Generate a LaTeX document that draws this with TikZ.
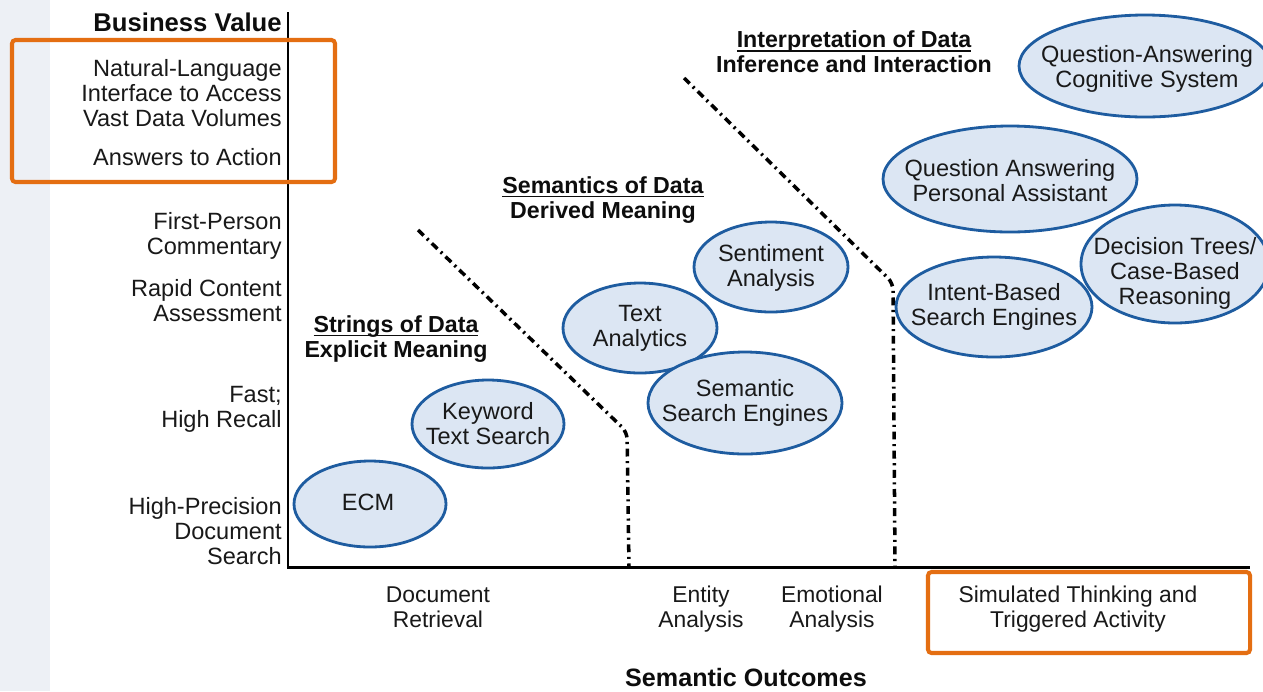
\documentclass[tikz,border=0pt]{standalone}
\usepackage{fontspec}
\setmainfont{Liberation Sans}
\usepackage{xcolor}

\definecolor{azulborda}{RGB}{30,92,160}
\definecolor{azulfundo}{RGB}{220,230,243}
\definecolor{laranja}{RGB}{228,110,18}
\definecolor{faixa}{RGB}{237,240,245}

\newcommand{\sublinha}[1]{\setbox0\hbox{#1}\rlap{\rule[-2.2pt]{\wd0}{0.7pt}}\box0}

\tikzset{
	bolha/.style   = {draw = azulborda, fill = azulfundo, line width = 1.6pt},
	rotulo/.style  = {inner sep = 0pt, align = center, text = black!90, font = \fontsize{13.4}{14.2}\selectfont},
	eixoy/.style   = {rotulo, anchor = east, align = right},
	eixox/.style   = {rotulo, font = \fontsize{13}{14.2}\selectfont},
	titulo/.style  = {inner sep = 0pt, align = center, text = black!95, font = \bfseries\fontsize{13.2}{14.2}\selectfont},
	divisa/.style  = {line width = 2pt, dash pattern = on 4.5pt off 2.6pt on 1.2pt off 2.6pt, rounded corners = 4pt},
	moldura/.style = {draw = laranja, line width = 2.3pt, rounded corners = 2pt},
}

\begin{document}
\begin{tikzpicture}[x = 0.02cm, y = -0.02cm]

	\useasboundingbox (0, 0) rectangle (1263, 691);
	\fill[white] (0, 0) rectangle (1263, 691);
	\fill[faixa] (0, 0) rectangle (50, 691); % faixa lateral

	% Eixos
	\draw[line width = 1.7pt] (288, 12) -- (288, 567) -- (1250, 567);

	% Divisas
	\draw[divisa] (418, 230) -- (627, 432) -- (629, 567);
	\draw[divisa] (684,  78) -- (893, 283) -- (895, 567);

	% Eixo vertical
	\node[titulo, anchor = east, font = \bfseries\fontsize{14.6}{16}\selectfont] (bv) at (282, 22) {Business Value};
	\node[eixoy] (nli) at (282,  93)   {Natural-Language\\Interface to Access\\Vast Data Volumes};
	\node[eixoy] (ata) at (282, 157)   {Answers to Action};
	\node[eixoy] (fpc) at (282, 236) {First-Person\\Commentary};
	\node[eixoy] (rca) at (282, 301) {Rapid Content\\Assessment};
	\node[eixoy] (fhr) at (282, 409.5)   {Fast;\\High Recall};
	\node[eixoy] (hpd) at (282, 531)   {High-Precision\\Document\\Search};

	% Titulos das regioes
	\node[titulo] (str) at (396, 339) {\sublinha{Strings of Data}\\Explicit Meaning};
	\node[titulo] (sem) at (603, 200) {\sublinha{Semantics of Data}\\Derived Meaning};
	\node[titulo] (int) at (854,  52) {\sublinha{Interpretation of Data}\\Inference and Interaction};

	% Bolhas
	\draw[bolha] ( 370, 504) ellipse ( 76 and 43);
	\node[rotulo] (ecm) at ( 368, 502) {ECM};
	\draw[bolha] ( 488, 424) ellipse ( 76 and 44);
	\node[rotulo] (kws) at ( 488, 424) {Keyword\\Text Search};
	\draw[bolha] ( 640, 328) ellipse ( 77 and 45);
	\node[rotulo] (txa) at ( 640, 328) {Text\\Analytics};
	\draw[bolha] ( 771, 267) ellipse ( 77 and 45);
	\node[rotulo] (sen) at ( 771, 268) {Sentiment\\Analysis};
	\draw[bolha] ( 745, 403) ellipse ( 97 and 51);
	\node[rotulo] (sse) at ( 745, 403) {Semantic\\Search Engines};
	\draw[bolha] ( 994, 307) ellipse ( 98 and 50);
	\node[rotulo] (ibs) at ( 994, 307) {Intent-Based\\Search Engines};
	\draw[bolha] (1010, 179) ellipse (127 and 53);
	\node[rotulo] (qpa) at (1010, 181) {Question Answering\\Personal Assistant};
	\draw[bolha] (1175, 264) ellipse ( 94 and 59);
	\node[rotulo] (dtr) at (1175, 273) {Decision Trees/\\Case-Based\\Reasoning};
	\draw[bolha] (1145,  66) ellipse (126 and 51);
	\node[rotulo] (qac) at (1147,  69) {Question-Answering\\Cognitive System};

	% Eixo horizontal
	\node[eixox] (dre)  at ( 438, 607) {Document\\Retrieval};
	\node[eixox] (ean)  at ( 701, 609) {Entity\\Analysis};
	\node[eixox] (eman) at ( 832, 609) {Emotional\\Analysis};
	\node[eixox] (sta)  at (1078, 609) {Simulated Thinking and\\Triggered Activity};
	\node[titulo, font = \bfseries\fontsize{14.3}{16}\selectfont] (so) at (746, 677.5) {Semantic Outcomes};

	% Destaques
	\draw[moldura] ( 12,  40) rectangle ( 335, 182);
	\draw[moldura] (928, 572) rectangle (1250, 653);

\end{tikzpicture}
\end{document}
